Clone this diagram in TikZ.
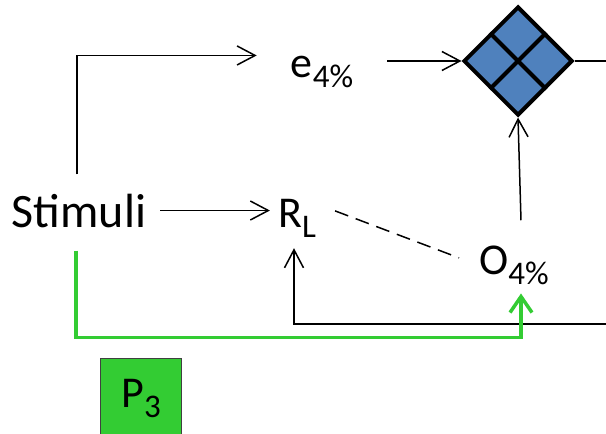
\documentclass[tikz,border=0pt]{standalone}
\usepackage{fontspec}
\setmainfont{Carlito}
\usetikzlibrary{arrows.meta,shapes.geometric,calc}
\definecolor{pgreen}{HTML}{33CC33}
\definecolor{pblue}{HTML}{4F81BD}
\newcommand{\lowsub}[1]{\raisebox{-10pt}{\fontsize{33}{36}\selectfont #1}}

\begin{document}
\begin{tikzpicture}[x=1pt,y=1pt,
  lbl/.style={inner sep=0pt, anchor=base, font=\fontsize{44}{50}\selectfont},
  arr/.style={line width=1.5pt, -{Straight Barb[length=18pt,width=19pt]}},
  garr/.style={pgreen, line width=3.5pt, -{Straight Barb[length=16pt,width=22pt]}}]
\useasboundingbox (0,0) rectangle (606,-434);

\node[lbl, font=\fontsize{48}{54}\selectfont] (stim) at (79,-227) {Stimuli};
\node[lbl] (e4) at (322,-77) {e\lowsub{4\%}};
\node[lbl] (rl) at (297,-227) {R\lowsub{L}};
\node[lbl] (o4) at (514,-274) {O\lowsub{4\%}};
\node[diamond, draw, fill=pblue, line width=4pt, minimum size=109pt, inner sep=0pt] (gate) at (518,-61) {};
\draw[line width=4pt] (gate.north west) -- (gate.south east) (gate.north east) -- (gate.south west);
\node[draw=black!75, fill=pgreen, minimum size=81pt, inner sep=0pt, font=\fontsize{44}{50}\selectfont] (p3) at (141,-398.5) {P\lowsub{3}};
\coordinate (rimE) at (606,-61);
\coordinate (rimS) at (606,-324);

\draw[arr] ([xshift=14]stim.east) -- ($(stim.east -| rl.west)+(-8,0)$);
\draw[arr] ([shift={(-2,19)}]stim.north) |- ([xshift=-34]e4.north west);
\draw[arr] ($(e4.east |- gate.west)+(34,0)$) -- (gate.west);
\draw[line width=1.5pt] (gate.east) -- (rimE);
\draw[arr] ([shift={(7,25)}]o4.north) -- (gate.south);
\draw[line width=1.5pt, dash pattern=on 14pt off 8pt] ([shift={(19,7)}]rl.east) -- ([shift={(-20,7)}]o4.west);
\draw[arr] (rimS) -| ([shift={(-3,-11)}]rl.south);
\draw[garr] ([shift={(-3,-23)}]stim.south) -- ++(0,-87) -| ([shift={(7,-9)}]o4.south);
\end{tikzpicture}
\end{document}
